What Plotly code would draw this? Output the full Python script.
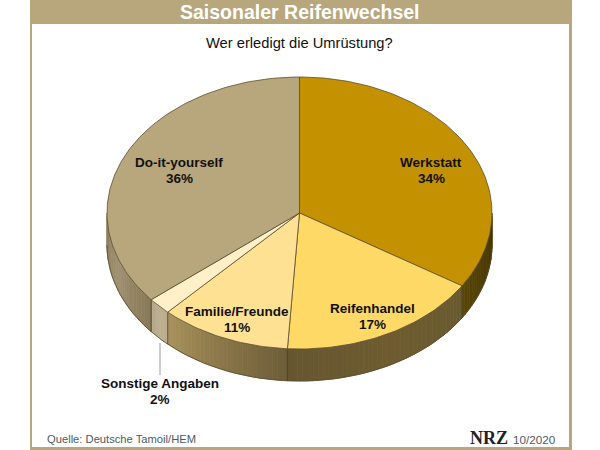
import math
import plotly.graph_objects as go

# ---- data ----
categories = ["Werkstatt", "Reifenhandel", "Familie/Freunde", "Sonstige Angaben", "Do-it-yourself"]
shares = [34, 17, 11, 2, 36]

# ---- style ----
top_colors = ["#C49200", "#FFD966", "#FFE193", "#FFF0C8", "#B8A67C"]
wall_stops = [
    ["#453400", "#4E3C04", "#5A4608"],
    ["#6A5A30", "#6E5C30", "#665630"],
    ["#6C5C38", "#8A7648", "#A8925C"],
    ["#B8AC8C", "#BDB192", "#B4A888"],
    ["#877958", "#A09271", "#8C7E5E"],
]
FRAME = "#B8A67C"
EDGE = "#5A4C30"
CX, CY, RX, RY, DEPTH = 299.5, 213, 192.5, 136, 32


def rim(theta_deg, drop=0.0):
    t = math.radians(theta_deg)
    return CX + RX * math.sin(t), CY - RY * math.cos(t) + drop


def mix(a, b, f):
    ca = [int(a[i:i + 2], 16) for i in (1, 3, 5)]
    cb = [int(b[i:i + 2], 16) for i in (1, 3, 5)]
    return "#%02X%02X%02X" % tuple(round(x + (y - x) * f) for x, y in zip(ca, cb))


def shade(stops, f):
    p = f * (len(stops) - 1)
    i = min(int(p), len(stops) - 2)
    return mix(stops[i], stops[i + 1], p - i)


fig = go.Figure()


def poly(xs, ys, fill, line=None, width=0.0):
    fig.add_trace(go.Scatter(
        x=xs, y=ys, mode="lines", fill="toself", fillcolor=fill,
        line=dict(color=line or fill, width=width), hoverinfo="skip", showlegend=False))


# slice boundaries
bounds = []
acc = 0
for v in shares:
    bounds.append((acc / sum(shares) * 360, (acc + v) / sum(shares) * 360))
    acc += v

# side walls (only the front half of the rim is visible)
for (a0, a1), stops in zip(bounds, wall_stops):
    lo, hi = max(a0, 90), min(a1, 270)
    if hi <= lo:
        continue
    n = max(2, int((hi - lo) / 1.5))
    for k in range(n):
        s0 = lo + (hi - lo) * k / n
        s1 = lo + (hi - lo) * (k + 1) / n
        x0, y0 = rim(s0)
        x1, y1 = rim(s1)
        x2, y2 = rim(s1, DEPTH)
        x3, y3 = rim(s0, DEPTH)
        c = shade(stops, (k + 0.5) / n)
        poly([x0, x1, x2, x3, x0], [y0, y1, y2, y3, y0], c, c, 0.8)

# outline of the wall bottom and slice edges on the wall
steps = list(range(90, 271, 2))
fig.add_trace(go.Scatter(x=[rim(a, DEPTH)[0] for a in steps], y=[rim(a, DEPTH)[1] for a in steps],
                         mode="lines", line=dict(color=EDGE, width=0.8), hoverinfo="skip", showlegend=False))
for a in [b[1] for b in bounds]:
    if 90 < a < 270:
        x0, y0 = rim(a)
        x1, y1 = rim(a, DEPTH)
        fig.add_trace(go.Scatter(x=[x0, x1], y=[y0, y1], mode="lines", line=dict(color="#4A3E24", width=0.8),
                                 hoverinfo="skip", showlegend=False))

# top face
for (a0, a1), col in zip(bounds, top_colors):
    n = max(2, int(a1 - a0))
    pts = [rim(a0 + (a1 - a0) * k / n) for k in range(n + 1)]
    xs = [CX] + [p[0] for p in pts] + [CX]
    ys = [CY] + [p[1] for p in pts] + [CY]
    poly(xs, ys, col, EDGE, 0.8)

# leader line
fig.add_shape(type="line", x0=160, x1=160, y0=343, y1=375, line=dict(color="#BDBDBD", width=1.5))

# frame
for x0, y0, x1, y1 in [(30, 0, 572, 24), (30, 0, 32, 450), (569, 0, 572, 450), (30, 447, 572, 450)]:
    fig.add_shape(type="rect", x0=x0, y0=y0, x1=x1, y1=y1, fillcolor=FRAME, line_width=0, layer="above")


def text(x, y, s, size, color="#111111", bold=False, family="Liberation Sans", anchor="center"):
    fig.add_annotation(x=x, y=y, text=f"<b>{s}</b>" if bold else s, showarrow=False, xanchor=anchor, yanchor="middle",
                       font=dict(family=family, size=size, color=color))


text(300, 12, "Saisonaler Reifenwechsel", 19.5, "#FFFFFF", True)
text(299, 43, "Wer erledigt die Umrüstung?", 14.7, "#111111", False)

label_pos = [(431, 162), (372, 308), (237, 311), (160, 383), (179, 162)]
for name, v, (x, y) in zip(categories, shares, label_pos):
    text(x, y, name, 13.5, bold=True)
    text(x, y + 16, f"{v}%", 13.5, bold=True)

text(45, 439, "Quelle: Deutsche Tamoil/HEM", 11.2, "#4E5A64", anchor="left")
text(468, 438, "NRZ", 18, "#222222", True, "Liberation Serif", anchor="left")
text(511, 439, "10/2020", 11.7, "#4E5A64", anchor="left")

fig.update_layout(
    width=600, height=450, margin=dict(l=0, r=0, t=0, b=0), autosize=False,
    paper_bgcolor="white", plot_bgcolor="white", showlegend=False,
    xaxis=dict(range=[0, 600], visible=False, fixedrange=True),
    yaxis=dict(range=[450, 0], visible=False, fixedrange=True),
)
fig.write_html("out.html", config={"displayModeBar": False},
               post_script="document.body.style.margin='0';document.body.style.overflow='hidden';")
